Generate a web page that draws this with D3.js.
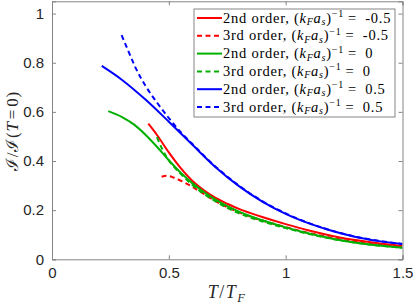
<!DOCTYPE html>
<html>
<head>
<meta charset="utf-8">
<script src="https://cdn.jsdelivr.net/npm/d3@7"></script>
<style>
  body { margin: 0; background: #fff; }
  svg { display: block; }
</style>
</head>
<body>
<div id="chart"></div>
<script>
// T/T_F and I/I(T=0)
var red2T = [0.412, 0.45, 0.50, 0.55, 0.60, 0.65, 0.70, 0.75, 0.80, 0.85, 0.90, 1.00, 1.10, 1.20, 1.35, 1.50];
var red2I = [0.552, 0.505, 0.435, 0.372, 0.320, 0.281, 0.250, 0.226, 0.205, 0.188, 0.172, 0.143, 0.117, 0.095, 0.071, 0.054];

var red3T = [0.469, 0.49, 0.52, 0.56, 0.60, 0.65, 0.70, 0.75, 0.80, 0.85, 0.90, 1.00, 1.10, 1.20, 1.35, 1.50];
var red3I = [0.336, 0.340, 0.333, 0.316, 0.295, 0.266, 0.237, 0.212, 0.191, 0.173, 0.158, 0.131, 0.107, 0.087, 0.064, 0.050];

var green2T = [0.241, 0.30, 0.35, 0.40, 0.45, 0.50, 0.55, 0.60, 0.65, 0.70, 0.75, 0.80, 0.85, 0.90, 1.00, 1.10, 1.20, 1.35, 1.50];
var green2I = [0.603, 0.579, 0.549, 0.507, 0.457, 0.403, 0.353, 0.310, 0.274, 0.243, 0.216, 0.194, 0.175, 0.159, 0.130, 0.105, 0.084, 0.061, 0.047];

var green3T = [0.449, 0.47, 0.50, 0.55, 0.60, 0.65, 0.70, 0.75, 0.80, 0.85, 0.90, 1.00, 1.10, 1.20, 1.35, 1.50];
var green3I = [0.497, 0.452, 0.402, 0.349, 0.303, 0.266, 0.236, 0.209, 0.187, 0.169, 0.154, 0.127, 0.103, 0.083, 0.061, 0.047];

var blue2T = [0.213, 0.30, 0.40, 0.50, 0.60, 0.70, 0.80, 0.90, 1.00, 1.10, 1.20, 1.30, 1.40, 1.50];
var blue2I = [0.787, 0.730, 0.650, 0.560, 0.467, 0.375, 0.298, 0.235, 0.185, 0.146, 0.115, 0.091, 0.074, 0.062];

var blue3T = [0.298, 0.33, 0.36, 0.40, 0.45, 0.50, 0.55, 0.60, 0.70, 0.80, 0.90, 1.00, 1.10, 1.20, 1.30, 1.40, 1.50];
var blue3I = [0.912, 0.840, 0.775, 0.706, 0.637, 0.575, 0.518, 0.470, 0.377, 0.300, 0.237, 0.187, 0.147, 0.116, 0.092, 0.075, 0.062];

var kfas = ["-0.5", "-0.5", "0", "0", "0.5", "0.5"];
var orders = ["2nd", "3rd", "2nd", "3rd", "2nd", "3rd"];

var xTicks = [0, 0.5, 1, 1.5];
var yTicks = [0, 0.2, 0.4, 0.6, 0.8, 1];

var series = [
  {T: red2T, I: red2I, color: "#ff0000", dash: null},
  {T: red3T, I: red3I, color: "#ff0000", dash: "5,3.5"},
  {T: green2T, I: green2I, color: "#00b000", dash: null},
  {T: green3T, I: green3I, color: "#00b000", dash: "5,3.5"},
  {T: blue2T, I: blue2I, color: "#0000ff", dash: null},
  {T: blue3T, I: blue3I, color: "#0000ff", dash: "5,3.5"}
];

var width = 415, height = 308;
var mLeft = 52, mRight = 402.5, mTop = 1.3, mBottom = 259.3;

var svg = d3.select("#chart").append("svg")
    .attr("width", width)
    .attr("height", height);

var x = d3.scaleLinear().domain([0, 1.5]).range([mLeft, mRight]);
var y = d3.scaleLinear().domain([0, 1.05]).range([mBottom, mTop]);

svg.append("clipPath").attr("id", "clip")
  .append("rect")
    .attr("x", mLeft).attr("y", mTop)
    .attr("width", mRight - mLeft).attr("height", mBottom - mTop);

var line = d3.line()
    .x(function (d) { return x(d[0]); })
    .y(function (d) { return y(d[1]); })
    .curve(d3.curveMonotoneX);

svg.append("g").attr("clip-path", "url(#clip)")
  .selectAll("path")
  .data(series).enter()
  .append("path")
    .attr("fill", "none")
    .attr("stroke", function (d) { return d.color; })
    .attr("stroke-width", 2)
    .attr("stroke-dasharray", function (d) { return d.dash; })
    .attr("d", function (d) {
        return line(d.T.map(function (t, i) { return [t, d.I[i]]; }));
    });

// axes box, ticks inward on all four sides
var axisColor = "#858585";
var tickFont = "'Liberation Sans', Arial, sans-serif";

svg.append("g")
    .attr("transform", "translate(0," + mBottom + ")")
    .call(d3.axisBottom(x).tickValues(xTicks).tickSize(-4).tickPadding(8)
        .tickFormat(d3.format("")))
    .call(function (g) {
        g.select(".domain").attr("stroke", axisColor);
        g.selectAll(".tick line").attr("stroke", axisColor);
        g.selectAll(".tick text").attr("fill", "#262626")
            .attr("font-family", tickFont).attr("font-size", 15);
    });

svg.append("g")
    .attr("transform", "translate(" + mLeft + ",0)")
    .call(d3.axisLeft(y).tickValues(yTicks).tickSize(-4).tickPadding(8)
        .tickFormat(d3.format("")))
    .call(function (g) {
        g.select(".domain").attr("stroke", axisColor);
        g.selectAll(".tick line").attr("stroke", axisColor);
        g.selectAll(".tick text").attr("fill", "#262626")
            .attr("font-family", tickFont).attr("font-size", 15);
    });

svg.append("g")
    .attr("transform", "translate(0," + mTop + ")")
    .call(d3.axisTop(x).tickValues(xTicks).tickSize(-4).tickFormat(""))
    .call(function (g) {
        g.select(".domain").attr("stroke", axisColor);
        g.selectAll(".tick line").attr("stroke", axisColor);
    });

svg.append("g")
    .attr("transform", "translate(" + mRight + ",0)")
    .call(d3.axisRight(y).tickValues(yTicks).tickSize(-4).tickFormat(""))
    .call(function (g) {
        g.select(".domain").attr("stroke", axisColor);
        g.selectAll(".tick line").attr("stroke", axisColor);
    });

// axis labels
var serif = "'Liberation Serif', 'DejaVu Serif', serif";

var xl = svg.append("text")
    .attr("x", 227)
    .attr("y", 298)
    .attr("text-anchor", "middle")
    .attr("font-family", serif)
    .attr("font-size", 18)
    .attr("letter-spacing", 1.5)
    .attr("fill", "#262626");
xl.append("tspan").attr("font-style", "italic").text("T");
xl.append("tspan").text("/");
xl.append("tspan").attr("font-style", "italic").text("T");
xl.append("tspan").attr("font-style", "italic").attr("font-size", 12.5).attr("dy", 3.5).text("F");

var yl = svg.append("text")
    .attr("transform", "translate(18," + 131 + ") rotate(-90)")
    .attr("text-anchor", "middle")
    .attr("font-family", serif)
    .attr("font-size", 17)
    .attr("letter-spacing", 0.8)
    .attr("fill", "#262626");
yl.append("tspan").text("\u2110/\u2110(");
yl.append("tspan").attr("font-style", "italic").text("T");
yl.append("tspan").attr("dx", 2).text("=");
yl.append("tspan").attr("dx", 2).text("0)");

// legend
var legX = 194, legY = 9, legW = 201, legH = 108, rowH = 17.8;

svg.append("rect")
    .attr("x", legX).attr("y", legY)
    .attr("width", legW).attr("height", legH)
    .attr("fill", "#fff")
    .attr("stroke", axisColor)
    .attr("stroke-width", 1);

var rows = svg.selectAll(".leg")
    .data(series).enter()
    .append("g")
    .attr("class", "leg")
    .attr("transform", function (d, i) {
        return "translate(" + legX + "," + (legY + 9 + i * rowH) + ")";
    });

rows.append("line")
    .attr("x1", 3).attr("x2", 28)
    .attr("stroke", function (d) { return d.color; })
    .attr("stroke-width", 2)
    .attr("stroke-dasharray", function (d) { return d.dash; });

var lt = rows.append("text")
    .attr("x", 29)
    .attr("y", 4.5)
    .attr("font-family", serif)
    .attr("font-size", 14.5)
    .attr("letter-spacing", 0.75)
    .attr("fill", "#000");

lt.each(function (d, i) {
    var t = d3.select(this);
    t.append("tspan").text(orders[i] + " order, (");
    t.append("tspan").attr("font-style", "italic").text("k");
    t.append("tspan").attr("font-style", "italic").attr("font-size", 10).attr("dy", 2.5).text("F");
    t.append("tspan").attr("font-style", "italic").attr("dy", -2.5).text("a");
    t.append("tspan").attr("font-style", "italic").attr("font-size", 10).attr("dy", 2.5).text("s");
    t.append("tspan").attr("dy", -2.5).text(")");
    t.append("tspan").attr("font-size", 10).attr("dy", -5.5).text("\u22121");
    t.append("tspan").attr("dy", 5.5).attr("dx", 4).text("=");
    t.append("tspan").attr("dx", 4).text(" " + kfas[i]);
});
</script>
</body>
</html>
